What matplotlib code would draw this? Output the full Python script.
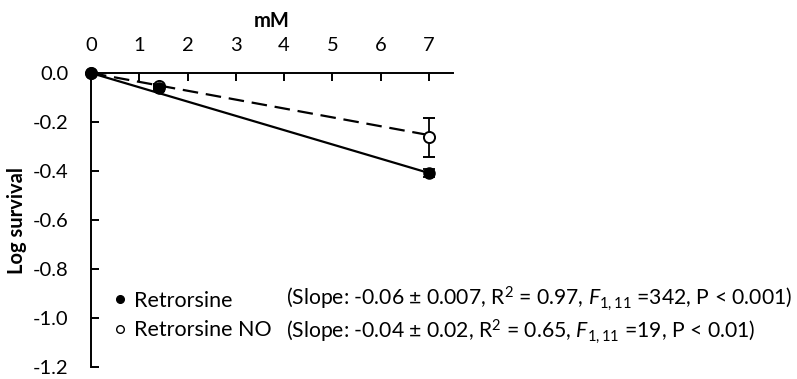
import matplotlib
matplotlib.use("Agg")
import matplotlib.pyplot as plt
from matplotlib.lines import Line2D

plt.rcParams['font.family'] = ['Lato', 'DejaVu Sans']
plt.rcParams['mathtext.fontset'] = 'custom'
plt.rcParams['mathtext.rm'] = 'Lato'
plt.rcParams['mathtext.it'] = 'Lato:italic'

conc = [0, 1.4, 7]
retro = [0.0, -0.06, -0.408]
retro_err = [0.0, 0.012, 0.018]
retro_no = [0.0, -0.055, -0.262]
retro_no_err = [0.0, 0.01, 0.08]
slope_retro = -0.0583
slope_no = -0.0362
xticks = [0, 1, 2, 3, 4, 5, 6, 7]
yticks = [0.0, -0.2, -0.4, -0.6, -0.8, -1.0, -1.2]
stats_retro = r"(Slope: -0.06 ± 0.007, R$^{2}$ = 0.97, $\mathit{F}_{\mathit{1,11}}$ =342, P < 0.001)"
stats_no = r"(Slope: -0.04 ± 0.02, R$^{2}$ = 0.65, $\mathit{F}_{\mathit{1,11}}$ =19, P < 0.01)"

FS = 14.5
W, H = 797, 379
fig = plt.figure(figsize=(W/100, H/100), dpi=100)
ax = fig.add_axes([91/W, 1-367/H, 362/W, 294/H])

# fitted lines
ax.plot([0, 7], [0, slope_retro*7], color='black', lw=1.6, zorder=2)
ax.plot([0, 7], [0, slope_no*7], color='black', lw=1.6, ls=(0, (7, 3.5)), zorder=2)

ax.errorbar(conc, retro_no, yerr=retro_no_err, fmt='o', mfc='white', mec='black',
            ecolor='black', ms=8, capsize=4, elinewidth=1.3, capthick=1.3, mew=1.4, zorder=4, clip_on=False)
ax.errorbar(conc, retro, yerr=retro_err, fmt='o', mfc='black', mec='black',
            ecolor='black', ms=8, capsize=4, elinewidth=1.3, capthick=1.3, zorder=5, clip_on=False)

ax.set_xlim(0, 7.5)
ax.set_ylim(-1.2, 0)
ax.spines['right'].set_visible(False)
ax.spines['bottom'].set_visible(False)
ax.spines['top'].set_position(('data', 0))
ax.spines['top'].set_linewidth(1.4)
ax.spines['left'].set_linewidth(1.4)
ax.xaxis.set_ticks_position('top')
ax.xaxis.set_label_position('top')
ax.set_xticks(xticks)
ax.set_yticks(yticks)
ax.set_yticklabels([f"{v:.1f}" for v in yticks])
ax.tick_params(axis='x', direction='in', length=6, width=1.4, labelsize=FS, pad=14)
ax.tick_params(axis='y', direction='in', length=6, width=1.4, labelsize=FS, pad=16)
ax.set_xlabel('mM', fontsize=FS, fontweight='bold', labelpad=7)
ax.set_ylabel('Log survival', fontsize=FS, fontweight='bold', labelpad=4)

handles = [Line2D([], [], marker='o', ls='none', mfc='black', mec='black', ms=5.5),
           Line2D([], [], marker='o', ls='none', mfc='white', mec='black', ms=5.5, mew=1)]
ax.legend(handles, ['Retrorsine', 'Retrorsine NO'], loc='center left',
          bbox_to_anchor=(114/W, 1-315.5/H), bbox_transform=fig.transFigure,
          frameon=False, fontsize=15.5, handlelength=0.6, handletextpad=0.35,
          labelspacing=0.45, borderpad=0, borderaxespad=0)

fig.text(286/W, 1-299/H, stats_retro, fontsize=15.2, va='center', ha='left')
fig.text(286/W, 1-332/H, stats_no, fontsize=15.2, va='center', ha='left')

fig.savefig('out.png', dpi=100)
